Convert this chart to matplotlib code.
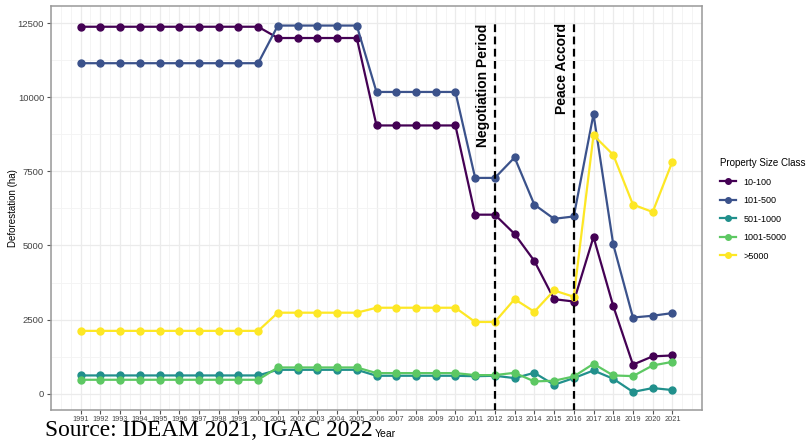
import numpy as np
import matplotlib
matplotlib.use('Agg')
import matplotlib.pyplot as plt
from matplotlib.ticker import MultipleLocator

# Data
years = list(range(1991, 2022))
classes = ['10-100', '101-500', '501-1000', '1001-5000', '>5000']
colors = ['#440154', '#3B528B', '#21908C', '#5DC863', '#FDE725']

d_10_100 = [12380]*10 + [12000]*5 + [9050]*5 + [6040, 6040, 5390, 4480, 3190, 3110, 5290, 2960, 980, 1260, 1290]
d_101_500 = [11150]*10 + [12420]*5 + [10180]*5 + [7280, 7280, 7970, 6380, 5900, 5980, 9430, 5040, 2570, 2630, 2720]
d_501_1000 = [616]*10 + [806]*5 + [605]*5 + [590, 605, 526, 705, 302, 526, 784, 504, 60, 190, 123]
d_1001_5000 = [470]*10 + [885]*5 + [695]*5 + [627, 627, 705, 414, 437, 582, 1008, 616, 593, 952, 1075]
d_gt_5000 = [2120]*10 + [2733]*5 + [2900]*5 + [2420, 2420, 3190, 2766, 3483, 3270, 8720, 8060, 6380, 6130, 7830]
series = [d_10_100, d_101_500, d_501_1000, d_1001_5000, d_gt_5000]

events = [2012, 2016]
event_labels = ['Negotiation Period', 'Peace Accord']

fig = plt.figure(figsize=(8.06, 4.47), dpi=100)
ax = fig.add_axes([51/806, 1 - 410/447, (702-51)/806, (410-6)/447])

for vals, col, lab in zip(series, colors, classes):
    ax.plot(years, vals, color=col, lw=1.6, marker='o', ms=5, label=lab, zorder=3)

for yr, lab in zip(events, event_labels):
    ax.plot([yr, yr], [-600, 12500], color='black', ls=(0, (3.5, 2)), lw=1.6, zorder=4)
    ax.text(yr - 0.6, 12500, lab, rotation=90, ha='center', va='top',
            fontsize=10, fontweight='bold', family='Liberation Sans', zorder=5)

ax.set_xlim(1989.5, 2022.5)
ax.set_ylim(-550, 13080)
ax.set_xticks(years)
ax.set_xticklabels([str(y) for y in years], fontsize=5.3, color='#444444', family='Liberation Sans')
ax.xaxis.set_minor_locator(MultipleLocator(0.5))
ax.set_yticks([0, 2500, 5000, 7500, 10000, 12500])
ax.yaxis.set_minor_locator(MultipleLocator(1250))
ax.tick_params(axis='y', labelsize=6.8, labelcolor='#444444', length=3, color='#555555', pad=2)
ax.tick_params(axis='x', length=3, color='#555555', pad=1.5)
ax.tick_params(which='minor', length=0)
for t in ax.get_yticklabels():
    t.set_family('Liberation Sans')
ax.grid(True, which='major', color='#ebebeb', lw=0.9)
ax.grid(True, which='minor', color='#f3f3f3', lw=0.6)
ax.set_axisbelow(True)
for s in ax.spines.values():
    s.set_color('#999999')
    s.set_linewidth(1.1)

ax.set_ylabel('Deforestation (ha)', fontsize=7, family='Liberation Sans')
ax.yaxis.set_label_coords(-33/651, 0.5)
fig.text(375/806, 1 - 434/447, 'Year', fontsize=7.5, family='Liberation Sans', ha='left', va='center')
fig.text(45/806, 1 - 431/447, 'Source: IDEAM 2021, IGAC 2022', fontsize=16.8,
         family='Liberation Serif', ha='left', va='center')

leg = ax.legend(title='Property Size Class', loc='upper left', bbox_to_anchor=(712/806, 1 - 150/447),
                bbox_transform=fig.transFigure, frameon=False, fontsize=6.5, title_fontsize=7,
                handlelength=1.8, labelspacing=1.05, markerscale=0.8)
leg._legend_box.align = 'left'
for t in leg.get_texts():
    t.set_family('Liberation Sans')
leg.get_title().set_family('Liberation Sans')

fig.savefig('out.png', dpi=100)
